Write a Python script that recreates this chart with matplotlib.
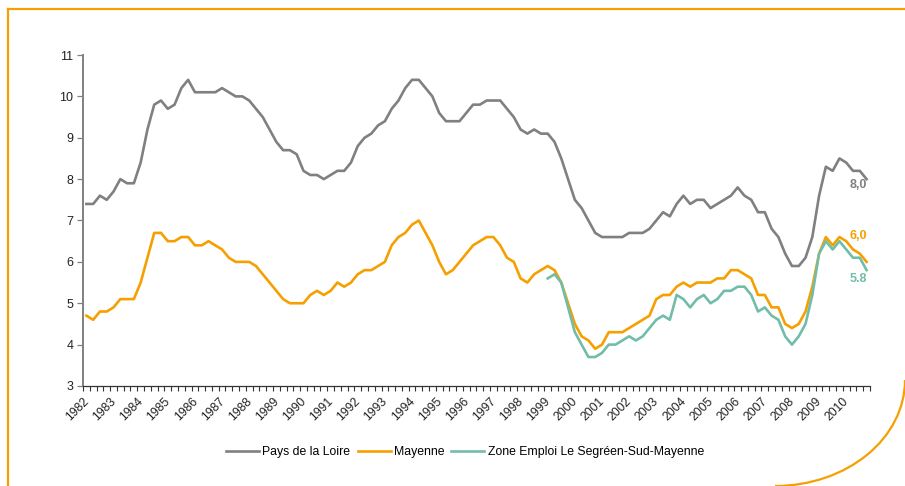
import numpy as np
import matplotlib
matplotlib.use("Agg")
import matplotlib.pyplot as plt
from matplotlib.patches import Arc
from matplotlib.lines import Line2D
from matplotlib.transforms import ScaledTranslation

plt.rcParams["font.family"] = ["Liberation Sans", "DejaVu Sans"]

# quarterly unemployment rates, 1982 Q1 -> 2010 Q4
years = list(range(1982, 2011))

pays_de_la_loire = [
    7.4, 7.4, 7.6, 7.5, 7.7, 8.0, 7.9, 7.9, 8.4, 9.2,
    9.8, 9.9, 9.7, 9.8, 10.2, 10.4, 10.1, 10.1, 10.1, 10.1,
    10.2, 10.1, 10.0, 10.0, 9.9, 9.7, 9.5, 9.2, 8.9, 8.7,
    8.7, 8.6, 8.2, 8.1, 8.1, 8.0, 8.1, 8.2, 8.2, 8.4,
    8.8, 9.0, 9.1, 9.3, 9.4, 9.7, 9.9, 10.2, 10.4, 10.4,
    10.2, 10.0, 9.6, 9.4, 9.4, 9.4, 9.6, 9.8, 9.8, 9.9,
    9.9, 9.9, 9.7, 9.5, 9.2, 9.1, 9.2, 9.1, 9.1, 8.9,
    8.5, 8.0, 7.5, 7.3, 7.0, 6.7, 6.6, 6.6, 6.6, 6.6,
    6.7, 6.7, 6.7, 6.8, 7.0, 7.2, 7.1, 7.4, 7.6, 7.4,
    7.5, 7.5, 7.3, 7.4, 7.5, 7.6, 7.8, 7.6, 7.5, 7.2,
    7.2, 6.8, 6.6, 6.2, 5.9, 5.9, 6.1, 6.6, 7.6, 8.3,
    8.2, 8.5, 8.4, 8.2, 8.2, 8.0,
]

mayenne = [
    4.7, 4.6, 4.8, 4.8, 4.9, 5.1, 5.1, 5.1, 5.5, 6.1,
    6.7, 6.7, 6.5, 6.5, 6.6, 6.6, 6.4, 6.4, 6.5, 6.4,
    6.3, 6.1, 6.0, 6.0, 6.0, 5.9, 5.7, 5.5, 5.3, 5.1,
    5.0, 5.0, 5.0, 5.2, 5.3, 5.2, 5.3, 5.5, 5.4, 5.5,
    5.7, 5.8, 5.8, 5.9, 6.0, 6.4, 6.6, 6.7, 6.9, 7.0,
    6.7, 6.4, 6.0, 5.7, 5.8, 6.0, 6.2, 6.4, 6.5, 6.6,
    6.6, 6.4, 6.1, 6.0, 5.6, 5.5, 5.7, 5.8, 5.9, 5.8,
    5.5, 5.0, 4.5, 4.2, 4.1, 3.9, 4.0, 4.3, 4.3, 4.3,
    4.4, 4.5, 4.6, 4.7, 5.1, 5.2, 5.2, 5.4, 5.5, 5.4,
    5.5, 5.5, 5.5, 5.6, 5.6, 5.8, 5.8, 5.7, 5.6, 5.2,
    5.2, 4.9, 4.9, 4.5, 4.4, 4.5, 4.8, 5.4, 6.2, 6.6,
    6.4, 6.6, 6.5, 6.3, 6.2, 6.0,
]

# zone d'emploi series only starts in 1999 Q1
zone_start = 1999
zone_emploi = [
    5.6, 5.7, 5.5, 4.9, 4.3, 4.0, 3.7, 3.7, 3.8, 4.0,
    4.0, 4.1, 4.2, 4.1, 4.2, 4.4, 4.6, 4.7, 4.6, 5.2,
    5.1, 4.9, 5.1, 5.2, 5.0, 5.1, 5.3, 5.3, 5.4, 5.4,
    5.2, 4.8, 4.9, 4.7, 4.6, 4.2, 4.0, 4.2, 4.5, 5.2,
    6.2, 6.5, 6.3, 6.5, 6.3, 6.1, 6.1, 5.8,
]

end_labels = ["8,0", "6,0", "5.8"]

GREY = "#808080"
ORANGE = "#F5A000"
TEAL = "#72BCAA"

fig = plt.figure(figsize=(9.05, 4.86), dpi=100)
ax = fig.add_axes([0.0917, 0.2058, 0.8696, 0.681])

x_all = np.arange(len(pays_de_la_loire))
x_zone = np.arange(len(zone_emploi)) + (zone_start - years[0]) * 4

ax.plot(x_all, pays_de_la_loire, color=GREY, lw=1.9, label="Pays de la Loire")
ax.plot(x_all, mayenne, color=ORANGE, lw=1.9, label="Mayenne")
ax.plot(x_zone, zone_emploi, color=TEAL, lw=1.9,
        label="Zone Emploi Le Segréen-Sud-Mayenne")

# end-of-series value labels
last = len(x_all) - 1
ax.annotate(end_labels[0], (last, pays_de_la_loire[-1]), xytext=(-6, -4),
            textcoords="offset points", ha="center", va="center",
            color=GREY, fontsize=9, fontweight="bold")
ax.annotate(end_labels[1], (last, mayenne[-1]), xytext=(-6, 18.5),
            textcoords="offset points", ha="center", va="center",
            color=ORANGE, fontsize=9, fontweight="bold")
ax.annotate(end_labels[2], (x_zone[-1], zone_emploi[-1]), xytext=(-6, -6.5),
            textcoords="offset points", ha="center", va="center",
            color=TEAL, fontsize=9, fontweight="bold")

ax.set_xlim(-0.5, len(x_all) - 0.5)
ax.set_ylim(3, 11)
ax.set_yticks(range(3, 12))
ax.set_xticks([4 * k for k in range(len(years))])
ax.set_xticklabels([str(y) for y in years], rotation=45, ha="right",
                   rotation_mode="anchor", fontsize=8.7, color="#222222")
ax.set_xticks(np.arange(-0.5, len(x_all)), minor=True)
ax.tick_params(axis="x", which="major", length=0, pad=7)
ax.tick_params(axis="x", which="minor", length=3.5, width=0.8, color="#333333",
               direction="out")
ax.tick_params(axis="y", length=4, width=0.9, color=GREY, labelsize=9,
               labelcolor="#222222", pad=3)
for lab in ax.get_xticklabels():
    lab.set_transform(lab.get_transform() + ScaledTranslation(-2.5 / 72, 0, fig.dpi_scale_trans))

for side in ["top", "right"]:
    ax.spines[side].set_visible(False)
ax.spines["left"].set_color(GREY)
ax.spines["left"].set_linewidth(1.4)
ax.spines["bottom"].set_color("#333333")
ax.spines["bottom"].set_linewidth(0.9)

fig.legend(loc="center", bbox_to_anchor=(465 / 905, 1 - 452 / 486), ncol=3,
           frameon=False, fontsize=8.8, handlelength=2.7, handletextpad=0.25,
           columnspacing=0.6)

# decorative orange frame
W, H = 905, 486
fig.add_artist(Line2D([8 / W, 8 / W], [0, 1 - 9 / H], color=ORANGE, lw=1.6,
                      transform=fig.transFigure))
fig.add_artist(Line2D([8 / W, 1], [1 - 9 / H, 1 - 9 / H], color=ORANGE, lw=1.6,
                      transform=fig.transFigure))
fig.add_artist(Arc((775 / W, 1 - 380 / H), 2 * 130 / W, 2 * 106 / H,
                   theta1=270, theta2=360, color=ORANGE, lw=1.6,
                   transform=fig.transFigure))

fig.savefig("out.png", dpi=100)
